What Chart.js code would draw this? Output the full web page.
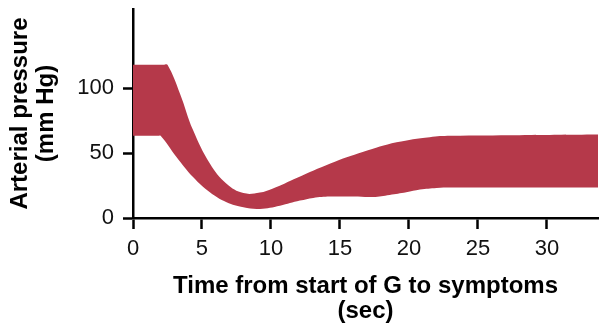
<!DOCTYPE html>
<html>
<head>
<meta charset="utf-8">
<script src="https://cdn.jsdelivr.net/npm/chart.js@4/dist/chart.umd.min.js"></script>
<style>
  html, body { margin: 0; padding: 0; background: #ffffff; }
  #wrap { width: 600px; height: 324px; position: relative; }
</style>
</head>
<body>
<div id="wrap"><canvas id="chart"></canvas></div>
<script>
// Upper (systolic) boundary of the pressure band
const upperTime     = [0, 2.2, 2.5, 3.4, 4.35, 5.57, 6.78, 8.0, 9.2, 10.1, 11.9, 14.3, 16.7, 19.1, 21.5, 23, 28, 33.7];
const upperPressure = [118, 118, 118, 96, 67.7, 42, 26.4, 19.2, 19.6, 22.5, 31, 42, 51, 58.3, 62.3, 63.3, 63.8, 64.3];

// Lower (diastolic) boundary of the pressure band
const lowerTime     = [0, 1.8, 2.0, 3.15, 4.35, 5.57, 6.78, 8.0, 9.2, 10.65, 12.1, 13.06, 14.27, 16.0, 17.4, 18.6, 19.8, 20.8, 22.0, 23.0, 33.7];
const lowerPressure = [63.3, 63.3, 63.3, 47, 31.5, 19.8, 12.1, 8.2, 7.0, 9.5, 13.4, 15.5, 16.5, 16.5, 16.2, 17.8, 19.8, 21.9, 23.2, 23.5, 23.5];

const xTickValues = [0, 5, 10, 15, 20, 25, 30];
const yTickValues = [0, 50, 100];

const bandColor = '#b5394a';
const fontFamily = '"Liberation Sans", Arial, Helvetica, sans-serif';

const toPoints = (xs, ys) => xs.map((x, i) => ({ x: x, y: ys[i] }));

new Chart(document.getElementById('chart'), {
  type: 'line',
  data: {
    datasets: [
      {
        label: 'Upper',
        data: toPoints(upperTime, upperPressure),
        borderWidth: 0,
        borderColor: bandColor,
        backgroundColor: bandColor,
        pointRadius: 0,
        tension: 0.4,
        fill: '+1'
      },
      {
        label: 'Lower',
        data: toPoints(lowerTime, lowerPressure),
        borderWidth: 0,
        borderColor: bandColor,
        backgroundColor: bandColor,
        pointRadius: 0,
        tension: 0.4,
        fill: false
      }
    ]
  },
  options: {
    responsive: true,
    maintainAspectRatio: false,
    animation: false,
    layout: { padding: { top: 9, right: 2, left: 0, bottom: 0 } },
    plugins: {
      legend: { display: false },
      tooltip: { enabled: false }
    },
    scales: {
      x: {
        type: 'linear',
        min: 0,
        max: 33.7,
        afterBuildTicks: (scale) => { scale.ticks = xTickValues.map(v => ({ value: v })); },
        afterFit: (scale) => { scale.height = 106; },
        border: { display: true, color: '#000', width: 2.5 },
        grid: { display: true, drawOnChartArea: false, drawTicks: true, tickLength: 11, tickWidth: 2.5, tickColor: '#000' },
        ticks: { color: '#111', font: { family: fontFamily, size: 22 }, padding: 7, maxRotation: 0 },
        title: {
          display: true,
          text: ['Time from start of G to symptoms', '(sec)'],
          color: '#000',
          font: { family: fontFamily, size: 24, weight: 'bold', lineHeight: 1.05 },
          padding: { top: 0, bottom: 0 }
        }
      },
      y: {
        type: 'linear',
        min: 0,
        max: 161,
        afterBuildTicks: (scale) => { scale.ticks = yTickValues.map(v => ({ value: v })); },
        afterFit: (scale) => { scale.width = 133; scale.paddingTop = 0; scale.paddingBottom = 0; },
        border: { display: true, color: '#000', width: 2.5 },
        grid: { display: true, drawOnChartArea: false, drawTicks: true, tickLength: 10, tickWidth: 2.5, tickColor: '#000' },
        ticks: { color: '#111', font: { family: fontFamily, size: 22 }, padding: 9 },
        title: {
          display: true,
          text: ['Arterial pressure', '(mm Hg)'],
          color: '#000',
          font: { family: fontFamily, size: 24, weight: 'bold', lineHeight: 1.1 },
          padding: { top: 7, bottom: 0 }
        }
      }
    }
  }
});
</script>
</body>
</html>
